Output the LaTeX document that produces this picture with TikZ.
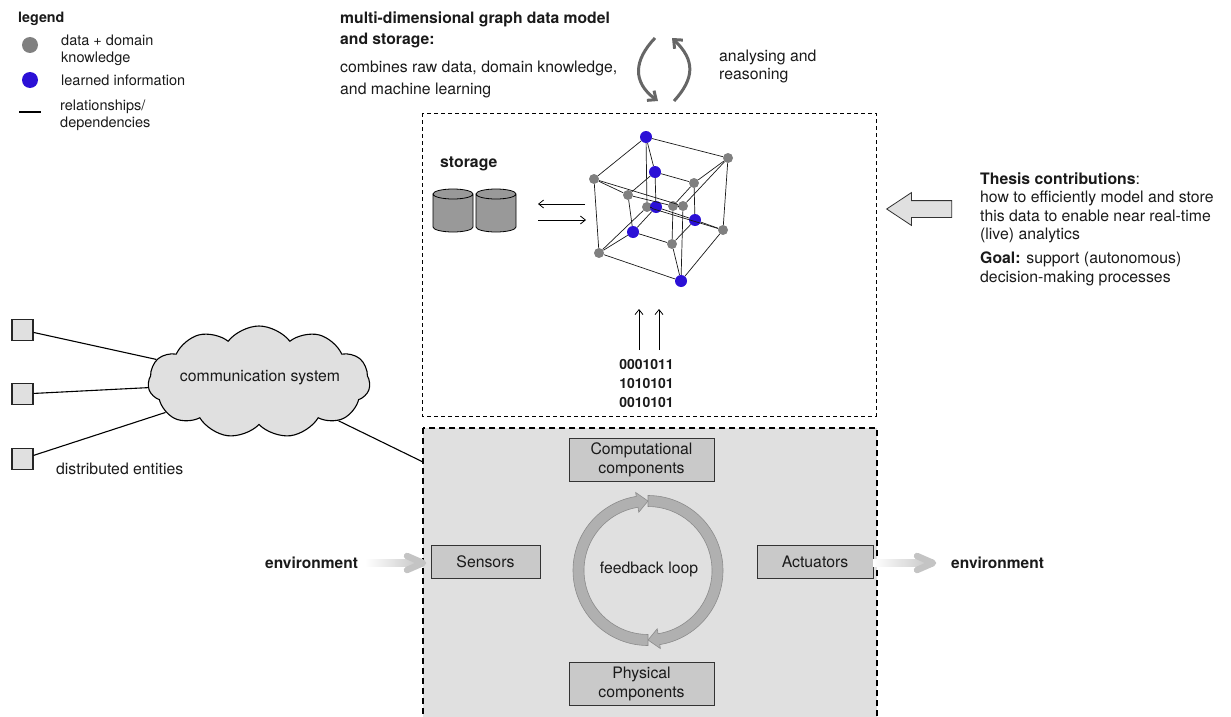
\documentclass[tikz,border=0pt]{standalone}
\usepackage{fontspec}
\usepackage{xcolor}
\usepackage{tikz}
\usetikzlibrary{arrows.meta,shapes.symbols,shapes.arrows}
\setmainfont{TeX Gyre Heros}
\definecolor{dotgray}{HTML}{808080}
\definecolor{dotblue}{HTML}{2B10D6}
\definecolor{panel}{HTML}{E0E0E0}
\definecolor{boxgray}{HTML}{C9C9C9}
\definecolor{ringgray}{HTML}{B0B0B0}
\definecolor{envgray}{HTML}{C4C4C4}
\definecolor{loopgray}{HTML}{666666}
\definecolor{txt}{HTML}{1A1A1A}

\begin{document}
\begin{tikzpicture}
    \def\dx{1pt}
    \def\dy{-1pt}

    \useasboundingbox (0,0) rectangle (1231*\dx,717*\dy);

    \tikzstyle{txtnode}=[inner sep=0pt,anchor=north west,align=left,text=txt,font=\fontsize{15.8}{18.5}\selectfont]
    \tikzstyle{legendtxt}=[txtnode,font=\fontsize{14.5}{17}\selectfont]
    \tikzstyle{gray dot}=[circle,fill=dotgray,minimum size=10pt,inner sep=0pt]
    \tikzstyle{blue dot}=[circle,fill=dotblue,minimum size=12pt,inner sep=0pt]
    \tikzstyle{comp}=[draw=black!80,line width=0.9pt,fill=boxgray,align=center,inner sep=0pt,text=txt,font=\fontsize{15.8}{19}\selectfont]
    \tikzstyle{entity}=[draw=black!85,line width=1.1pt,fill=panel,minimum size=21pt,inner sep=0pt]
    \tikzstyle{db}=[draw=black,line width=0.8pt,fill=black!40]
    \tikzstyle{fwd}=[draw=black,line width=0.8pt,-{Straight Barb[length=5pt,width=8pt]}]
    \tikzstyle{link}=[draw=black,line width=1.1pt]
    \tikzstyle{edge}=[draw=black!90,line width=0.7pt]
    \tikzstyle{swirl}=[draw=loopgray,line width=3pt,-{Straight Barb[length=7pt,width=12pt]}]

    % panels
    \draw [dashed,dash pattern=on 4pt off 3pt,line width=0.7pt] (422*\dx,113*\dy) rectangle (876*\dx,416*\dy);
    \draw [fill=panel,dash pattern=on 6pt off 4pt,line width=1.2pt] (423*\dx,428*\dy) rectangle (877*\dx,730*\dy);

    % legend
    \node[legendtxt,font=\fontsize{14.3}{17}\bfseries] (legendT) at (18*\dx,12*\dy) {legend};
    \node[gray dot,minimum size=16pt] (legendA) at (30*\dx,45*\dy) {};
    \node[blue dot,minimum size=16pt] (legendB) at (30*\dx,80*\dy) {};
    \node[legendtxt] (legendAt) at (61*\dx,35*\dy) {data + domain\\knowledge};
    \node[legendtxt] (legendBt) at (61*\dx,75*\dy) {learned information};
    \node[legendtxt] (legendCt) at (60*\dx,100*\dy) {relationships/\\dependencies};
    \coordinate (legendCa) at (19*\dx,112*\dy);
    \coordinate (legendCb) at (41*\dx,112*\dy);
    \draw [link] (legendCa) -- (legendCb);

    % top texts
    \node[txtnode,font=\fontsize{15.7}{21}\bfseries] (modelT) at (340*\dx,12*\dy) {multi-dimensional graph data model\\and storage:};
    \node[txtnode,font=\fontsize{15.8}{22}\selectfont] (modelB) at (340*\dx,60.5*\dy) {combines raw data, domain knowledge,\\and machine learning};
    \node[txtnode] (analyse) at (719*\dx,49.5*\dy) {analysing and\\reasoning};

    \coordinate (swirlA) at (655*\dx,38*\dy);
    \coordinate (swirlB) at (658*\dx,101*\dy);
    \coordinate (swirlC) at (674*\dx,101*\dy);
    \coordinate (swirlD) at (672*\dx,38*\dy);
    \draw [swirl] (swirlA) .. controls (634*\dx,60*\dy) and (632*\dx,82*\dy) .. (swirlB);
    \draw [swirl] (swirlC) .. controls (695*\dx,78*\dy) and (695*\dx,60*\dy) .. (swirlD);

    % storage
    \node[txtnode,font=\fontsize{15.8}{18.5}\bfseries] (storage) at (440*\dx,157*\dy) {storage};
    \foreach \c in {433,476} {
        \draw [db] (\c*\dx,194*\dy) -- ++(0,-33pt) arc[start angle=180,end angle=360,x radius=20pt,y radius=5pt]
            -- ++(0,33pt) arc[start angle=0,end angle=180,x radius=20pt,y radius=5pt]
            arc[start angle=180,end angle=360,x radius=20pt,y radius=5pt];
    }
    \coordinate (ioA) at (585*\dx,204*\dy);
    \coordinate (ioB) at (538*\dx,204*\dy);
    \coordinate (ioC) at (538*\dx,220*\dy);
    \coordinate (ioD) at (586*\dx,220*\dy);
    \draw [fwd] (ioA) -- (ioB);
    \draw [fwd] (ioC) -- (ioD);

    % hypercube
    \node[blue dot] (oA) at (646*\dx,137*\dy) {};
    \node[gray dot] (oB) at (728*\dx,158*\dy) {};
    \node[gray dot] (oC) at (594*\dx,179*\dy) {};
    \node[gray dot] (oD) at (599*\dx,253*\dy) {};
    \node[blue dot] (oE) at (681*\dx,281*\dy) {};
    \node[gray dot] (oF) at (723*\dx,230*\dy) {};
    \node[gray dot] (oG) at (683*\dx,206*\dy) {};
    \node[gray dot] (oH) at (647*\dx,207*\dy) {};

    \node[blue dot] (iA) at (655*\dx,172*\dy) {};
    \node[gray dot] (iB) at (694*\dx,183*\dy) {};
    \node[gray dot] (iC) at (628*\dx,195*\dy) {};
    \node[gray dot] (iD) at (673*\dx,206*\dy) {};
    \node[blue dot] (iE) at (656*\dx,207*\dy) {};
    \node[blue dot] (iF) at (695*\dx,220*\dy) {};
    \node[blue dot] (iG) at (633*\dx,232*\dy) {};
    \node[gray dot] (iH) at (672*\dx,244*\dy) {};

    \foreach \a/\b in {oA/oB,oA/oC,oC/oD,oD/oE,oE/oF,oF/oB,oC/oG,oB/oG,oE/oG,oA/oH,oD/oH,oF/oH,
                       iA/iB,iA/iC,iC/iD,iB/iD,iE/iF,iE/iG,iG/iH,iF/iH,iA/iE,iB/iF,iC/iG,iD/iH,
                       oA/iA,oB/iB,oC/iC,oG/iD,oH/iE,oF/iF,oD/iG,oE/iH}
          \draw [edge] (\a) -- (\b);

    % raw data
    \node[txtnode,anchor=north,align=center,font=\fontsize{14}{19}\bfseries] (bits) at (646.5*\dx,359*\dy) {0001011\\1010101\\0010101};
    \coordinate (bitsA) at (639*\dx,350*\dy);
    \coordinate (bitsB) at (639*\dx,309*\dy);
    \coordinate (bitsC) at (659*\dx,350*\dy);
    \coordinate (bitsD) at (659*\dx,309*\dy);
    \draw [fwd] (bitsA) -- (bitsB);
    \draw [fwd] (bitsC) -- (bitsD);

    % thesis
    \node[txtnode] (thesis) at (980*\dx,172.5*\dy) {\textbf{Thesis contributions}:\\how to efficiently model and store\\this data to enable near real-time\\(live) analytics};
    \node[txtnode] (goal) at (980*\dx,252*\dy) {\textbf{Goal:} support (autonomous)\\decision-making processes};
    \node[single arrow,shape border rotate=180,draw=black!80,line width=0.8pt,fill=panel,minimum height=65pt,minimum width=32pt,single arrow head extend=8pt,single arrow tip angle=67,inner xsep=0pt,inner ysep=8pt] (bigarrow) at (925.5*\dx,209*\dy) {};

    % communication
    \node[cloud,cloud puffs=11,cloud puff arc=105,aspect=2,draw=black,line width=1.1pt,fill=panel,minimum width=222pt,minimum height=112pt,inner sep=0pt] (cloud) at (259*\dx,382*\dy) {};
    \node[inner sep=0pt,font=\fontsize{15.8}{18.5}\selectfont,text=txt] (cloudT) at (260*\dx,378*\dy) {communication system};
    \node[entity] (entA) at (22.5*\dx,330*\dy) {};
    \node[entity] (entB) at (22.5*\dx,394*\dy) {};
    \node[entity] (entC) at (22.5*\dx,459*\dy) {};
    \node[txtnode] (entT) at (56*\dx,463*\dy) {distributed entities};
    \coordinate (cpsIn) at (423*\dx,462*\dy);
    \draw [link] (entA) -- (cloud);
    \draw [link] (entB) -- (cloud);
    \draw [link] (entC) -- (cloud);
    \draw [link] (cloud) -- (cpsIn);

    % components
    \node[comp,minimum width=145pt,minimum height=43pt] (compC) at (641.5*\dx,459.5*\dy) {Computational\\components};
    \node[comp,minimum width=145pt,minimum height=43pt] (compP) at (641.5*\dx,683.5*\dy) {Physical\\components};
    \node[comp,minimum width=109pt,minimum height=33pt] (sensors) at (485.5*\dx,561.5*\dy) {Sensors};
    \node[comp,minimum width=116pt,minimum height=33pt] (actuators) at (815*\dx,561.5*\dy) {Actuators};

    % loop
    \foreach \r in {0,180} {
        \begin{scope}[shift={(648*\dx,570.5*\dy)},rotate=\r]
            \draw [fill=ringgray,draw=black!45,line width=0.6pt] (90:75pt) arc[start angle=90,end angle=-81,radius=75pt]
                -- (-81:79pt) -- (-90:69.5pt) -- (-81:59pt) -- (-81:64pt) arc[start angle=-81,end angle=90,radius=64pt] -- cycle;
        \end{scope}
    }
    \node[inner sep=0pt,text=txt,font=\fontsize{15.8}{18.5}\selectfont] (loop) at (649*\dx,569*\dy) {feedback loop};

    % environment
    \node[txtnode,anchor=west,font=\fontsize{15.5}{18.5}\bfseries] (envL) at (265*\dx,563*\dy) {environment};
    \node[txtnode,anchor=west,font=\fontsize{15.5}{18.5}\bfseries] (envR) at (951*\dx,563*\dy) {environment};
    \coordinate (envLa) at (365*\dx,563*\dy);
    \coordinate (envLb) at (423*\dx,563*\dy);
    \coordinate (envRa) at (873*\dx,563*\dy);
    \coordinate (envRb) at (933*\dx,563*\dy);
    \foreach \s/\e in {envLa/envLb,envRa/envRb} {
        \shade [left color=white,right color=envgray] ([yshift=3.2pt]\s) rectangle ([yshift=-3.2pt]\e);
        \draw [envgray,line width=6.5pt,line cap=round,line join=round] ([xshift=-16pt,yshift=7pt]\e) -- (\e) -- ([xshift=-16pt,yshift=-7pt]\e);
    }
\end{tikzpicture}
\end{document}
